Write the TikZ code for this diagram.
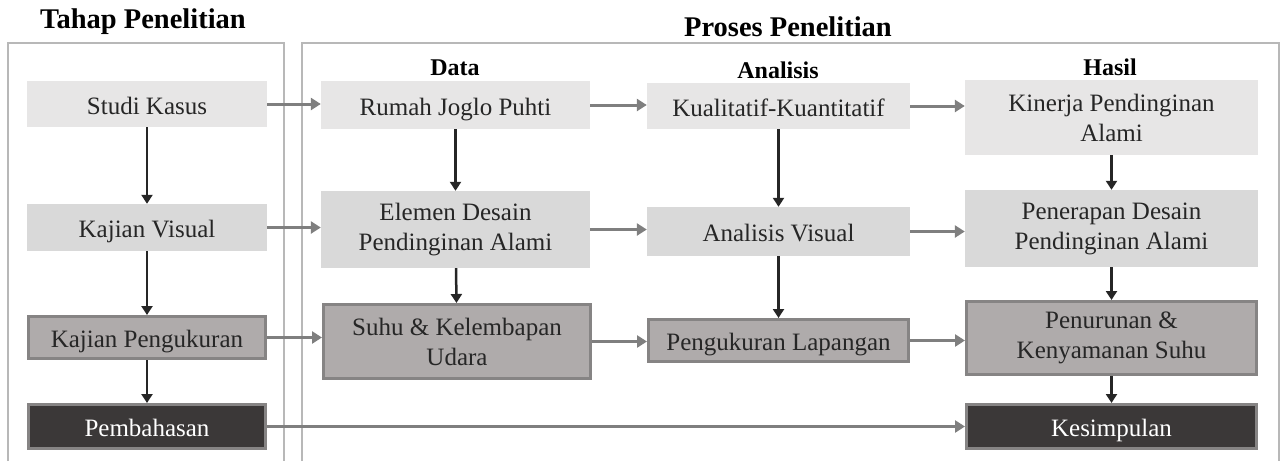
\documentclass[tikz,border=0pt]{standalone}
\usepackage{fontspec}
\setmainfont{Liberation Serif}
\usetikzlibrary{positioning, arrows.meta}

\definecolor{lite}{HTML}{E7E6E6}
\definecolor{mid}{HTML}{D9D9D9}
\definecolor{deep}{HTML}{AFABAB}
\definecolor{dark}{HTML}{3B3838}
\definecolor{edge}{HTML}{868484}
\definecolor{link}{HTML}{7F7F7F}
\definecolor{frame}{HTML}{B8B8B8}

\tikzset{
  box/.style={rectangle, inner sep=0pt, align=center,
    font=\fontsize{25}{30}\selectfont, text=black!85},
  one/.style={text height=20pt, text depth=0pt},
  boxA/.style={box, fill=lite},
  boxB/.style={box, fill=mid},
  boxC/.style={box, fill=deep, draw=edge, line width=3pt},
  boxD/.style={box, fill=dark, draw=edge, line width=3pt, text=white},
  down/.style={draw=black!85, line width=2.5pt, -{Triangle[length=9pt,width=11pt]}},
  side/.style={draw=link, line width=3pt, -{Triangle[length=10pt,width=12pt]}},
  title/.style={font=\fontsize{28.5}{32}\selectfont\bfseries},
  head/.style={font=\fontsize{24}{28}\selectfont\bfseries}
}

\begin{document}
\begin{tikzpicture}[x=1pt, y=-1pt]
\useasboundingbox (0,0) rectangle (1281,461);

% frames
\draw[frame, line width=1.5pt] (8,461) -- (8,43) -- (284,43) -- (284,461);
\draw[frame, line width=1.5pt] (302,461) -- (302,43) -- (1279,43) -- (1279,461);

\node[title] (t1) at (143,22) {Tahap Penelitian};
\node[title] (t2) at (788,27) {Proses Penelitian};
\node[head] (h1) at (455,68) {Data};
\node[head] (h2) at (778,70) {Analisis};
\node[head] (h3) at (1110,67) {Hasil};

% tahap penelitian
\node[boxA, one, minimum width=240pt, minimum height=46pt] (1) at (147,104) {Studi Kasus};
\node[boxB, one, minimum width=240pt, minimum height=47pt] (2) at (147,227.5) {Kajian Visual};
\node[boxC, one, minimum width=237pt, minimum height=42pt] (3) at (147,337.5) {Kajian Pengukuran};
\node[boxD, one, minimum width=237pt, minimum height=44pt] (4) at (147,426.5) {\textcolor{white}{Pembahasan}};

% data
\node[boxA, one, minimum width=269pt, minimum height=48pt] (5) at (455.5,105) {Rumah Joglo Puhti};
\node[boxB, minimum width=269pt, minimum height=77pt] (6) at (455.5,229.5) {Elemen Desain\\Pendinginan Alami};
\node[boxC, minimum width=267pt, minimum height=74pt] (7) at (457,341.5) {Suhu \& Kelembapan\\Udara};

% analisis
\node[boxA, one, minimum width=263pt, minimum height=46pt] (8) at (778.5,106) {Kualitatif-Kuantitatif};
\node[boxB, one, minimum width=263pt, minimum height=49pt] (9) at (778.5,231.5) {Analisis Visual};
\node[boxC, one, minimum width=260pt, minimum height=42pt] (10) at (778.5,340.5) {Pengukuran Lapangan};

% hasil
\node[boxA, minimum width=293pt, minimum height=75pt] (11) at (1111.5,117.5) {Kinerja Pendinginan\\Alami};
\node[boxB, minimum width=293pt, minimum height=77pt] (12) at (1111.5,228.5) {Penerapan Desain\\Pendinginan Alami};
\node[boxC, minimum width=290pt, minimum height=73pt] (13) at (1111.5,338) {Penurunan \&\\Kenyamanan Suhu};
\node[boxD, one, minimum width=290pt, minimum height=44pt] (14) at (1111.5,426.5) {\textcolor{white}{Kesimpulan}};

% alur ke bawah
\draw[down] (1) -- (2);
\draw[down] (2) -- (3);
\draw[down] (3) -- (4);
\draw[down] (5) -- (6);
\draw[down] (6) -- (7);
\draw[down] (8) -- (9);
\draw[down] (9) -- (10);
\draw[down] (11) -- (12);
\draw[down] (12) -- (13);
\draw[down] (13) -- (14);

% alur ke samping
\draw[side] (1.east) -- (1.east -| 5.west);
\draw[side] (5.east) -- (5.east -| 8.west);
\draw[side] (8.east) -- (8.east -| 11.west);
\draw[side] (2.east) -- (2.east -| 6.west);
\draw[side] (6.east) -- (6.east -| 9.west);
\draw[side] (9.east) -- (9.east -| 12.west);
\draw[side] (3.east) -- (3.east -| 7.west);
\draw[side] (7.east) -- (7.east -| 10.west);
\draw[side] (10.east) -- (10.east -| 13.west);
\draw[side] (4.east) -- (4.east -| 14.west);
\end{tikzpicture}
\end{document}
